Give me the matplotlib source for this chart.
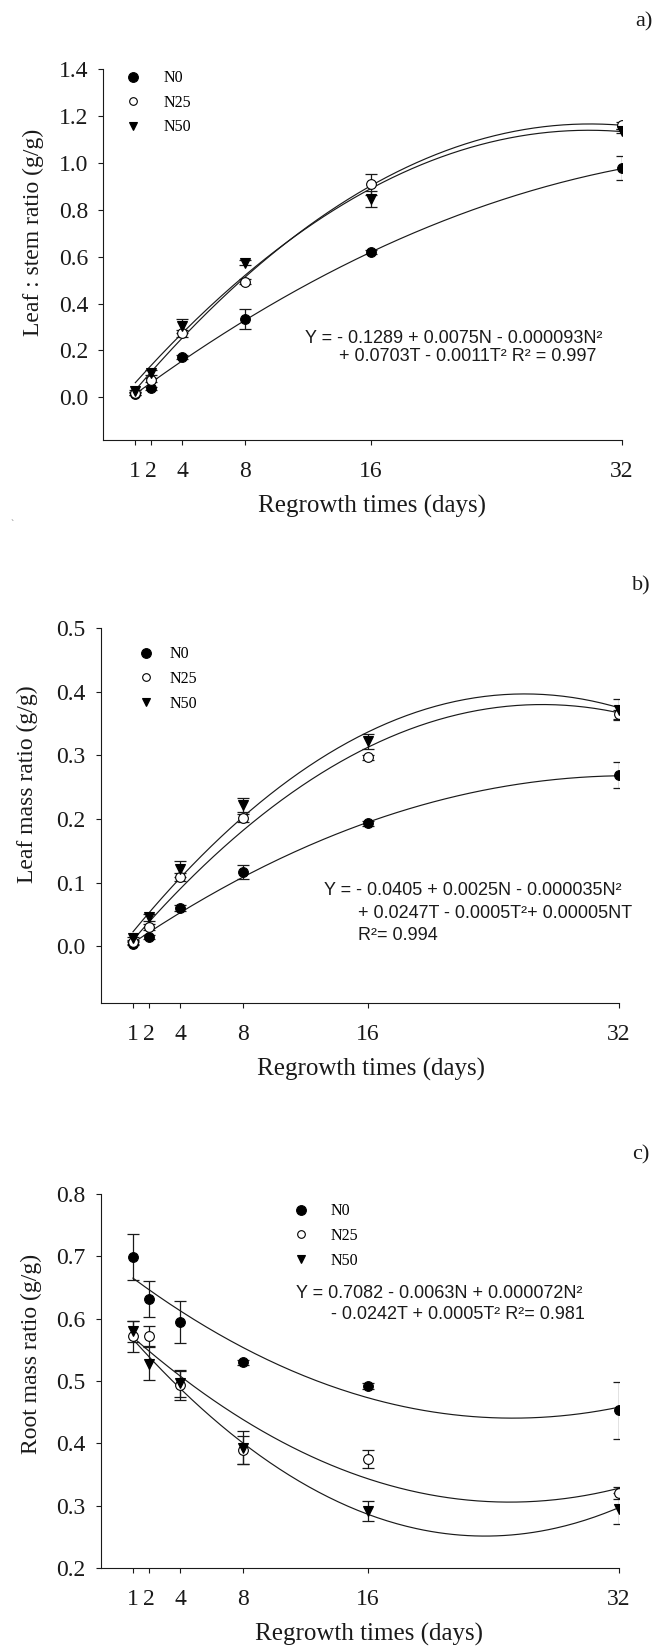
import numpy as np
import matplotlib
matplotlib.use('Agg')
import matplotlib.pyplot as plt
from matplotlib.lines import Line2D

plt.rcParams['font.family'] = ['Liberation Serif', 'DejaVu Serif']

# ---------------- data ----------------
days = [1, 2, 4, 8, 16, 32]
series = ['N0', 'N25', 'N50']
fit_days = [1, 16, 32]          # days at which the fitted curves were read

# a) Leaf : stem ratio
lsr_n0 = [0.015, 0.038, 0.173, 0.333, 0.619, 0.978]
lsr_n25 = [0.017, 0.074, 0.273, 0.493, 0.909, 1.160]
lsr_n50 = [0.028, 0.105, 0.304, 0.574, 0.846, 1.136]
lsr_n0_se = [0.005, 0.006, 0.008, 0.042, 0.010, 0.052]
lsr_n25_se = [0.005, 0.010, 0.015, 0.010, 0.045, 0.015]
lsr_n50_se = [0.005, 0.010, 0.030, 0.010, 0.033, 0.010]
lsr_fit_n0 = [0.014, 0.619, 0.975]
lsr_fit_n25 = [0.031, 0.902, 1.160]
lsr_fit_n50 = [0.0625, 0.890, 1.133]

# b) Leaf mass ratio
lmr_n0 = [0.004, 0.014, 0.060, 0.117, 0.193, 0.269]
lmr_n25 = [0.006, 0.030, 0.109, 0.202, 0.297, 0.365]
lmr_n50 = [0.012, 0.045, 0.121, 0.222, 0.322, 0.372]
lmr_n0_se = [0.002, 0.003, 0.004, 0.011, 0.004, 0.021]
lmr_n25_se = [0.002, 0.004, 0.006, 0.006, 0.004, 0.007]
lmr_n50_se = [0.003, 0.005, 0.013, 0.011, 0.012, 0.016]
lmr_fit_n0 = [0.005, 0.195, 0.268]
lmr_fit_n25 = [0.0095, 0.313, 0.367]
lmr_fit_n50 = [0.0225, 0.337, 0.375]

# c) Root mass ratio
rmr_n0 = [0.699, 0.631, 0.595, 0.530, 0.492, 0.453]
rmr_n25 = [0.572, 0.572, 0.493, 0.389, 0.375, 0.320]
rmr_n50 = [0.580, 0.528, 0.496, 0.393, 0.292, 0.295]
rmr_n0_se = [0.037, 0.029, 0.034, 0.004, 0.005, 0.046]
rmr_n25_se = [0.025, 0.016, 0.023, 0.022, 0.014, 0.010]
rmr_n50_se = [0.017, 0.027, 0.021, 0.026, 0.016, 0.025]
rmr_fit_n0 = [0.665, 0.473, 0.458]
rmr_fit_n25 = [0.570, 0.343, 0.328]
rmr_fit_n50 = [0.567, 0.286, 0.297]

ylabels = ['Leaf : stem ratio (g/g)', 'Leaf mass ratio (g/g)', 'Root mass ratio (g/g)']
panel_tags = ['a)', 'b)', 'c)']
xlabel = 'Regrowth times (days)'

eq_a = ['Y = - 0.1289 + 0.0075N - 0.000093N\u00b2',
        '+ 0.0703T - 0.0011T\u00b2 R\u00b2 = 0.997']
eq_b = ['Y = - 0.0405 + 0.0025N - 0.000035N\u00b2',
        '+ 0.0247T - 0.0005T\u00b2+ 0.00005NT',
        'R\u00b2= 0.994']
eq_c = ['Y = 0.7082 - 0.0063N + 0.000072N\u00b2',
        '- 0.0242T + 0.0005T\u00b2 R\u00b2= 0.981']

panels = [
    dict(vals=[lsr_n0, lsr_n25, lsr_n50], errs=[lsr_n0_se, lsr_n25_se, lsr_n50_se],
         fits=[lsr_fit_n0, lsr_fit_n25, lsr_fit_n50],
         rect=[103/667, 1-440/1651, 519/667, 371/1651],
         ylim=(-0.182, 1.4), yticks=np.arange(0, 1.41, 0.2),
         eq=eq_a, eq_pos=[(11.78, 0.230), (13.97, 0.155)],
         leg=(0.043, 0.997), legpad=1.38, ylab=(-0.134, 0.559), xlab=(0.518, -0.178),
         tag=(644/667, 1-22/1651)),
    dict(vals=[lmr_n0, lmr_n25, lmr_n50], errs=[lmr_n0_se, lmr_n25_se, lmr_n50_se],
         fits=[lmr_fit_n0, lmr_fit_n25, lmr_fit_n50],
         rect=[100.7/667, 1-1003.3/1651, 518.3/667, 375/1651],
         ylim=(-0.09, 0.5), yticks=np.arange(0, 0.51, 0.1),
         eq=eq_b, eq_pos=[(13.2, 0.0806), (15.34, 0.0441), (15.34, 0.0102)],
         leg=(0.072, 0.952), legpad=1.0, ylab=(-0.142, 0.583), xlab=(0.521, -0.176),
         tag=(641/667, 1-586/1651)),
    dict(vals=[rmr_n0, rmr_n25, rmr_n50], errs=[rmr_n0_se, rmr_n25_se, rmr_n50_se],
         fits=[rmr_fit_n0, rmr_fit_n25, rmr_fit_n50],
         rect=[100.7/667, 1-1568/1651, 518.3/667, 374/1651],
         ylim=(0.2, 0.8), yticks=np.arange(0.2, 0.81, 0.1),
         eq=eq_c, eq_pos=[(11.4, 0.6336), (13.6, 0.5996)],
         leg=(0.371, 0.975), legpad=1.36, ylab=(-0.134, 0.572), xlab=(0.517, -0.177),
         tag=(641/667, 1-1155/1651)),
]

styles = [dict(marker='o', mfc='black', ms=7, lms=7),
          dict(marker='o', mfc='white', ms=7, lms=5.5),
          dict(marker='v', mfc='black', ms=7, lms=6)]

ink = '#1a1a1a'
fig = plt.figure(figsize=(6.67, 16.51), dpi=100)

for i, (p, tag) in enumerate(zip(panels, panel_tags)):
    ax = fig.add_axes(p['rect'])
    tt = np.linspace(1, 32, 200)
    for fit in p['fits']:
        coef = np.polyfit(fit_days, fit, 2)
        ax.plot(tt, np.polyval(coef, tt), color=ink, lw=0.85, zorder=2)
    for v, e, st in zip(p['vals'], p['errs'], styles):
        ax.errorbar(days, v, yerr=e, fmt='none', ecolor=ink, elinewidth=0.9,
                    capsize=4, capthick=0.9, zorder=3)
        ax.plot(days, v, linestyle='none', marker=st['marker'], ms=st['ms'],
                mfc=st['mfc'], mec='black', mew=0.8, zorder=4)
    ax.set_xlim(-1.06, 32)
    ax.set_ylim(*p['ylim'])
    ax.set_xticks(days)
    ax.set_xticklabels([str(d) for d in days])
    ax.set_yticks(p['yticks'])
    ax.set_yticklabels(['%.1f' % t for t in p['yticks']])
    for s in ['top', 'right']:
        ax.spines[s].set_visible(False)
    for s in ['left', 'bottom']:
        ax.spines[s].set_linewidth(0.8)
        ax.spines[s].set_color(ink)
    ax.tick_params(direction='out', length=3.3, width=0.8, color=ink,
                   labelsize=17, labelcolor=ink)
    ax.tick_params(axis='x', pad=11.5)
    ax.tick_params(axis='y', pad=7.5)
    ax.set_ylabel(ylabels[i], fontsize=17, va='center', color=ink)
    ax.yaxis.set_label_coords(*p['ylab'])
    ax.set_xlabel(xlabel, fontsize=18, va='center', color=ink)
    ax.xaxis.set_label_coords(*p['xlab'])
    for line, pos in zip(p['eq'], p['eq_pos']):
        ax.text(pos[0], pos[1], line, family=['Liberation Sans', 'DejaVu Sans'],
                fontsize=13, ha='left', va='baseline', color=ink)
    handles = [Line2D([], [], linestyle='none', marker=st['marker'], ms=st['lms'],
                      mfc=st['mfc'], mec='black', mew=0.8) for st in styles]
    ax.legend(handles, series, loc='upper left', bbox_to_anchor=p['leg'],
              frameon=False, fontsize=11.5, handlelength=1.0,
              handletextpad=p['legpad'], labelspacing=0.54, borderpad=0,
              borderaxespad=0)
    fig.text(p['tag'][0], p['tag'][1], tag, fontsize=16, ha='center', va='center',
             color=ink)

fig.text(12/667, 1-524/1651, '`', fontsize=7, color='#777777', ha='center', va='center')

fig.savefig('out.png', dpi=100)
